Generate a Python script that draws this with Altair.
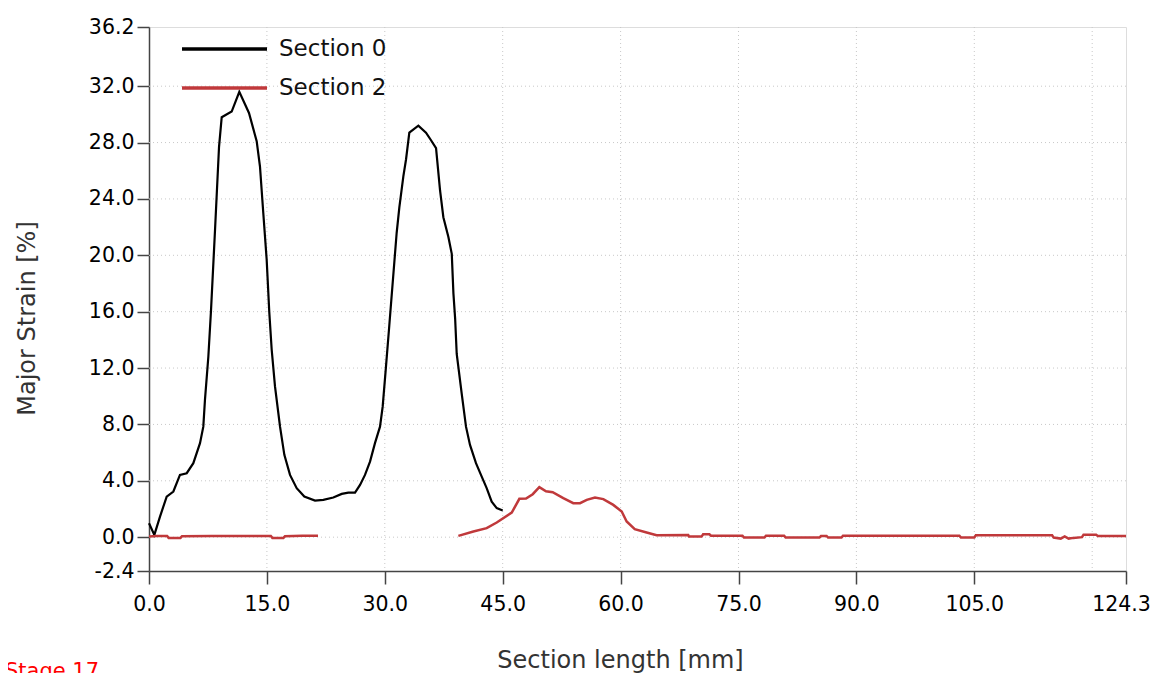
import altair as alt
import pandas as pd

# ---- data ----
sec0_x = [0.00, 0.68, 1.40, 2.25, 3.10, 3.94, 4.80, 5.64, 6.49, 6.91, 7.12, 7.55, 7.89, 8.40,
          8.91, 9.25, 10.52, 11.49, 12.72, 13.70, 14.12, 14.54, 14.97, 15.30, 15.61, 16.03,
          16.67, 17.22, 17.94, 18.79, 19.76, 21.12, 22.18, 23.45, 24.52, 25.36, 26.21, 26.85,
          27.48, 28.12, 28.75, 29.39, 29.73, 30.15, 30.57, 31.51, 31.85, 32.36, 32.70,
          33.12, 34.27, 35.24, 35.84, 36.52, 37.03, 37.45, 38.09, 38.52, 38.73, 38.95, 39.15,
          39.78, 40.33, 40.84, 41.60, 42.33, 42.96, 43.60, 44.24, 45.00]
sec0_y = [0.99, 0.16, 1.46, 2.88, 3.24, 4.42, 4.54, 5.25, 6.67, 7.84, 9.74, 12.8, 16.1, 21.8,
          27.7, 29.8, 30.2, 31.6, 30.1, 28.1, 26.3, 23.0, 19.7, 16.0, 13.3, 10.7,
          7.84, 5.84, 4.42, 3.48, 2.88, 2.60, 2.65, 2.81, 3.07, 3.16, 3.16, 3.71,
          4.42, 5.36, 6.67, 7.84, 9.26, 12.1, 15.0, 21.6, 23.4, 25.6, 26.8,
          28.7, 29.2, 28.7, 28.2, 27.6, 24.6, 22.7, 21.3, 20.1, 17.3, 15.5, 13.0,
          10.2, 7.84, 6.55, 5.25, 4.30, 3.48, 2.52, 2.06, 1.89]

sec2a_x = [0.0, 1.0, 2.3, 2.5, 4.0, 4.2, 8.0, 12.0, 15.5, 15.7, 17.1, 17.3, 19.5, 21.5]
sec2a_y = [0.05, 0.09, 0.09, -0.05, -0.05, 0.07, 0.08, 0.08, 0.08, -0.05, -0.05, 0.07, 0.10, 0.10]

sec2b_x = [39.36, 41.27, 42.96, 44.24, 46.15, 47.12, 47.97, 48.82, 49.66, 50.51, 51.36, 52.71,
           53.98, 54.84, 55.69, 56.74, 57.80, 59.07, 60.14, 60.77, 61.80, 63.31, 64.58, 68.6,
           68.7, 70.3, 70.5, 71.3, 71.5, 75.5, 75.7, 78.3, 78.5, 80.8, 81.0, 85.3, 85.5, 86.2,
           86.4, 88.1, 88.3, 103.1, 103.3, 105.0, 105.2, 114.9, 115.1, 116.0, 116.5, 117.0,
           117.6, 118.7, 118.9, 120.5, 120.7, 124.3]
sec2b_y = [0.09, 0.40, 0.64, 1.04, 1.74, 2.72, 2.74, 3.05, 3.55, 3.26, 3.19, 2.77,
           2.41, 2.41, 2.65, 2.81, 2.70, 2.29, 1.82, 1.11, 0.57, 0.33, 0.14, 0.16,
           0.04, 0.04, 0.21, 0.21, 0.11, 0.11, -0.03, -0.03, 0.11, 0.11, -0.03, -0.03, 0.09, 0.09,
           -0.03, -0.03, 0.11, 0.11, -0.03, -0.03, 0.14, 0.14, -0.03, -0.10, 0.05, -0.10,
           -0.05, 0.00, 0.18, 0.18, 0.09, 0.09]

x_ticks = [0.0, 15.0, 30.0, 45.0, 60.0, 75.0, 90.0, 105.0, 124.3]
y_ticks = [-2.4, 0.0, 4.0, 8.0, 12.0, 16.0, 20.0, 24.0, 28.0, 32.0, 36.2]
x_grid = [15, 30, 45, 60, 75, 90, 105, 120]
y_grid = [0, 4, 8, 12, 16, 20, 24, 28, 32]
legend_labels = ["Section 0", "Section 2"]
stage_label = "Stage 17"

BLACK = "#000000"
RED = "#c0393b"
FONT = "DejaVu Sans"

df0 = pd.DataFrame({"x": sec0_x, "y": sec0_y})
df2 = pd.concat([
    pd.DataFrame({"x": sec2a_x, "y": sec2a_y, "seg": "a"}),
    pd.DataFrame({"x": sec2b_x, "y": sec2b_y, "seg": "b"}),
])

xscale = alt.Scale(domain=[0, 124.3], nice=False, zero=False)
yscale = alt.Scale(domain=[-2.4, 36.2], nice=False, zero=False)

lab = "replace(format(datum.value, '.1f'), '\u2212', '-')"
xaxis = alt.Axis(values=x_ticks, labelExpr=lab, grid=False, title="Section length [mm]",
                 tickSize=13, labelPadding=10, labelFontSize=20.5, labelFont=FONT,
                 labelColor="#000", labelFlush=False, labelOverlap=False, labelBound=False,
                 labelOffset={"condition": {"test": "datum.value > 124", "value": -5}, "value": 0},
                 titleFont=FONT, titleFontSize=24, titleFontWeight="normal", titleColor="#333",
                 titleX=471, titleY=96, titleBaseline="alphabetic", titleAnchor="start",
                 titleAlign="center",
                 domainColor="#444", domainWidth=1.5, tickColor="#444", tickWidth=1.5)
yaxis = alt.Axis(values=y_ticks, labelExpr=lab, grid=False, title="Major Strain [%]",
                 tickSize=12, labelPadding=3, labelFontSize=20.5, labelFont=FONT,
                 labelColor="#000", labelFlush=False, labelOverlap=False, labelBound=False,
                 titleFont=FONT, titleFontSize=24, titleFontWeight="normal", titleColor="#333",
                 titleX=-115, titleY=291, titleAngle=270, titleBaseline="alphabetic",
                 titleAlign="center", titleAnchor="start",
                 domainColor="#444", domainWidth=1.5, tickColor="#444", tickWidth=1.5)

gx = alt.Chart(pd.DataFrame({"g": x_grid})).mark_rule(
    color="#c8c8c8", strokeWidth=1, strokeDash=[1, 3]
).encode(x=alt.X("g:Q", scale=xscale, axis=xaxis))

gy = alt.Chart(pd.DataFrame({"g": y_grid})).mark_rule(
    color="#c8c8c8", strokeWidth=1, strokeDash=[1, 3]
).encode(y=alt.Y("g:Q", scale=yscale, axis=yaxis))

line0 = alt.Chart(df0).mark_line(color=BLACK, strokeWidth=2.2).encode(
    x=alt.X("x:Q", scale=xscale, axis=xaxis),
    y=alt.Y("y:Q", scale=yscale, axis=yaxis),
    order="x:Q",
)
line2 = alt.Chart(df2).mark_line(color=RED, strokeWidth=2.5).encode(
    x=alt.X("x:Q", scale=xscale, axis=xaxis),
    y=alt.Y("y:Q", scale=yscale, axis=yaxis),
    detail="seg:N",
    order="x:Q",
)

leg_df0 = pd.DataFrame({"t": [legend_labels[0]]})
leg_df2 = pd.DataFrame({"t": [legend_labels[1]]})
leg_r0 = alt.Chart(leg_df0).mark_rule(color=BLACK, strokeWidth=3.5).encode(
    x=alt.value(33), x2=alt.value(118), y=alt.value(22))
leg_r2 = alt.Chart(leg_df2).mark_rule(color=RED, strokeWidth=3.5).encode(
    x=alt.value(33), x2=alt.value(118), y=alt.value(61))
leg_t0 = alt.Chart(leg_df0).mark_text(align="left", baseline="middle", font=FONT,
                                      fontSize=23, color="#111").encode(
    x=alt.value(130), y=alt.value(22), text="t:N")
leg_t2 = alt.Chart(leg_df2).mark_text(align="left", baseline="middle", font=FONT,
                                      fontSize=23, color="#111").encode(
    x=alt.value(130), y=alt.value(61), text="t:N")

stage = alt.Chart(pd.DataFrame({"t": [stage_label]})).mark_text(
    align="left", baseline="top", font=FONT, fontSize=21, color="#ff0000"
).encode(x=alt.value(-144), y=alt.value(634), text="t:N")

chart = alt.layer(gx, gy, line0, line2, leg_r0, leg_r2, leg_t0, leg_t2, stage).properties(
    width=977, height=544,
    autosize=alt.AutoSizeParams(type="none"),
    padding={"left": 141, "top": 19, "right": 25, "bottom": 112},
).configure_view(stroke="#444", strokeWidth=1).configure(background="white")

chart.save("out.html", embed_options={"renderer": "svg", "actions": False})
